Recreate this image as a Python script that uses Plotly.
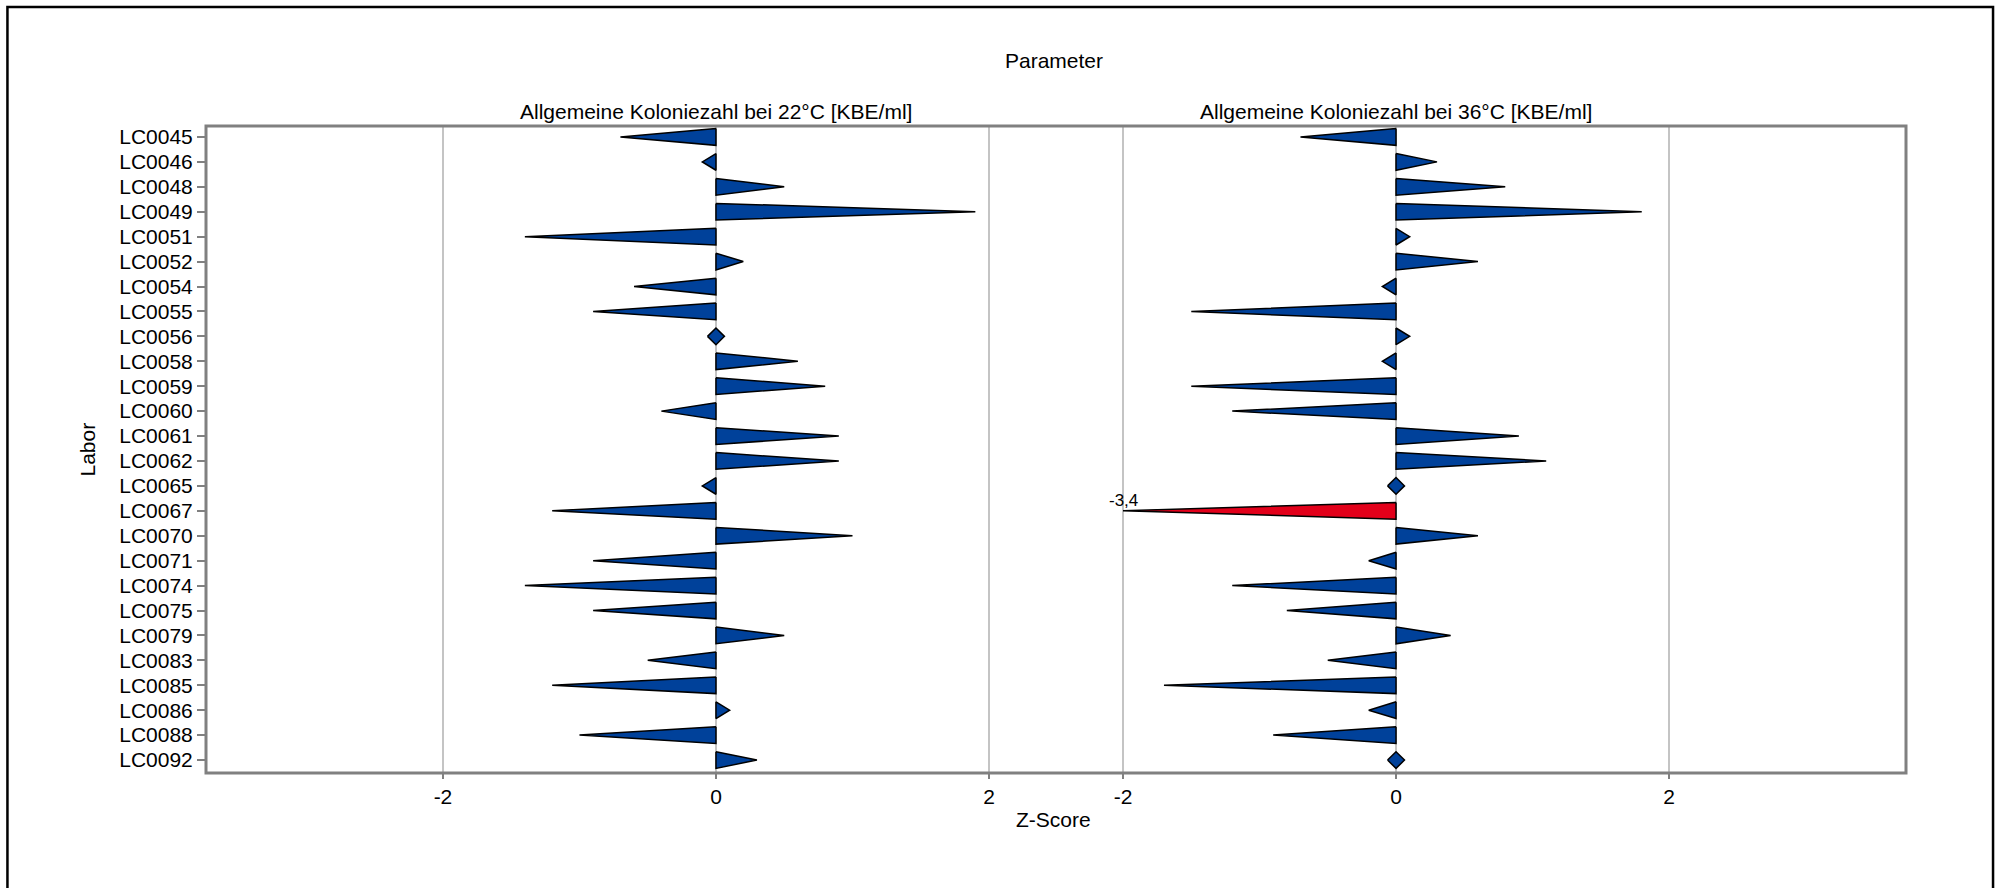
import plotly.graph_objects as go

labore = ["LC0045", "LC0046", "LC0048", "LC0049", "LC0051", "LC0052", "LC0054",
          "LC0055", "LC0056", "LC0058", "LC0059", "LC0060", "LC0061", "LC0062",
          "LC0065", "LC0067", "LC0070", "LC0071", "LC0074", "LC0075", "LC0079",
          "LC0083", "LC0085", "LC0086", "LC0088", "LC0092"]

z_22 = [-0.7, -0.1, 0.5, 1.9, -1.4, 0.2, -0.6, -0.9, 0.0, 0.6, 0.8, -0.4, 0.9,
        0.9, -0.1, -1.2, 1.0, -0.9, -1.4, -0.9, 0.5, -0.5, -1.2, 0.1, -1.0, 0.3]

z_36 = [-0.7, 0.3, 0.8, 1.8, 0.1, 0.6, -0.1, -1.5, 0.1, -0.1, -1.5, -1.2, 0.9,
        1.1, 0.0, -3.4, 0.6, -0.2, -1.2, -0.8, 0.4, -0.5, -1.7, -0.2, -0.9, 0.0]

parameter = ["Allgemeine Koloniezahl bei 22°C [KBE/ml]",
             "Allgemeine Koloniezahl bei 36°C [KBE/ml]"]

x_ticks = [-2, 0, 2]
limit = 2

FONT = "Liberation Sans, Arial, sans-serif"
BLUE = "#00419a"
RED = "#e2001a"
GRAY = "#808080"
GRID = "#c4c4c4"

HALF = 0.335   # half height of a wedge (category units)
DIAM = 0.062   # half width of the zero diamond (z units)


def add_wedges(fig, values, xref):
    notes = []
    for i, v in enumerate(values):
        color = BLUE
        tip = v
        if abs(v) > limit:
            tip = limit if v > 0 else -limit
            color = RED
            notes.append((tip, i, f"{v:.1f}".replace(".", ",")))
        if v == 0:
            xs = [-DIAM, 0, DIAM, 0, -DIAM]
            ys = [i, i - HALF, i, i + HALF, i]
        else:
            xs = [0, tip, 0, 0]
            ys = [i - HALF, i, i + HALF, i - HALF]
        fig.add_trace(go.Scatter(
            x=xs, y=ys, xaxis=xref, yaxis="y",
            mode="lines", fill="toself", fillcolor=color,
            line=dict(color="black", width=1.5),
            hoverinfo="skip", showlegend=False,
        ))
    for tip, i, txt in notes:
        fig.add_annotation(x=tip, y=i - 0.42, xref=xref, yref="y", text=txt,
                           showarrow=False, xanchor="center", yanchor="middle",
                           font=dict(size=17, color="black", family=FONT))


fig = go.Figure()
add_wedges(fig, z_22, "x")
add_wedges(fig, z_36, "x2")

xaxis_style = dict(
    tickvals=x_ticks, ticktext=[str(t) for t in x_ticks],
    showgrid=True, gridcolor=GRID, gridwidth=1.5, zeroline=False,
    showline=False, ticks="outside", ticklen=5, tickwidth=1.5, tickcolor=GRAY,
    tickfont=dict(size=21, color="black", family=FONT), fixedrange=True,
)

fig.update_layout(
    width=1999, height=888,
    margin=dict(l=206, r=93, t=126, b=115),
    paper_bgcolor="white", plot_bgcolor="white",
    font=dict(family=FONT, size=21, color="black"),
    xaxis=dict(domain=[0, 0.5], range=[-3.736, 2.491], anchor="y", **xaxis_style),
    xaxis2=dict(domain=[0.5, 1], range=[-2.491, 3.736], anchor="y", **xaxis_style),
    yaxis=dict(
        range=[25.52, -0.44], tickvals=list(range(len(labore))), ticktext=labore,
        showgrid=False, zeroline=False, showline=False,
        ticks="outside", ticklen=8, tickwidth=1.5, tickcolor=GRAY,
        tickfont=dict(size=21, color="black", family=FONT), fixedrange=True,
    ),
    showlegend=False,
)

# plot frame and outer border
fig.add_shape(type="rect", xref="paper", yref="paper", x0=0, x1=1, y0=0, y1=1,
              line=dict(color=GRAY, width=3), layer="above")
fig.add_shape(type="rect", xref="paper", yref="paper",
              x0=-0.1168, x1=1.0512, y0=-0.2, y1=1.1839,
              line=dict(color="black", width=2.5), layer="above")

txt = dict(showarrow=False, xanchor="center", yanchor="middle", font=dict(size=21))
fig.add_annotation(text="Parameter", xref="paper", yref="paper", x=0.4988, y=1.102, **txt)
for xr, name in zip(["x", "x2"], parameter):
    fig.add_annotation(text=name, xref=xr, yref="paper", x=0, y=1.023, **txt)
fig.add_annotation(text="Z-Score", xref="paper", yref="paper", x=0.4988, y=-0.0726, **txt)
fig.add_annotation(text="Labor", xref="paper", yref="paper", x=-0.07, y=0.5,
                   textangle=-90, **txt)

fig.write_html("out.html", config={"displayModeBar": False},
               post_script="document.body.style.margin='0';document.body.style.overflow='hidden';")
